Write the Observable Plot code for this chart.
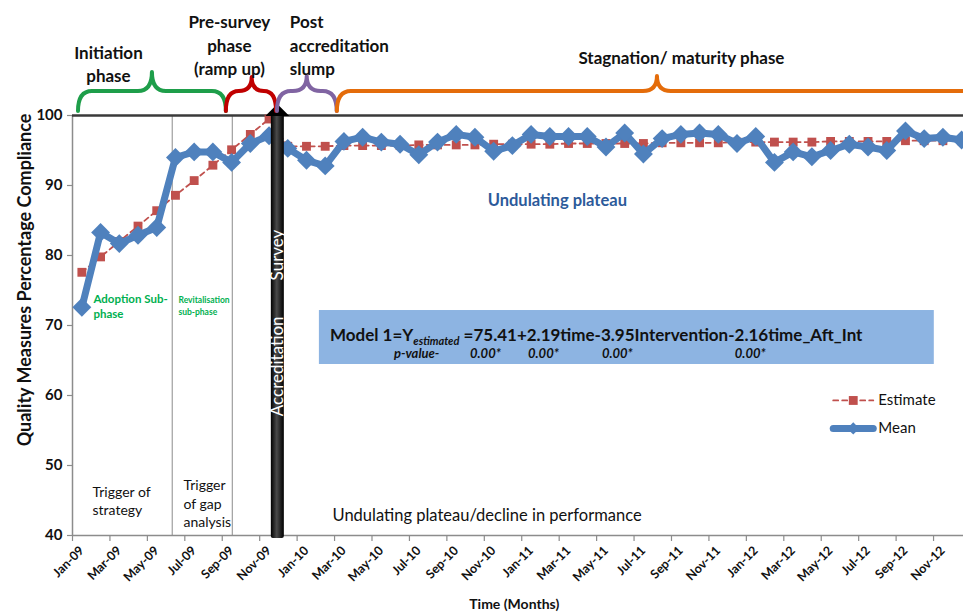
<!DOCTYPE html>
<html>
<head>
<meta charset="utf-8">
<script src="https://cdn.jsdelivr.net/npm/d3@7"></script>
<script src="https://cdn.jsdelivr.net/npm/@observablehq/plot@0.6"></script>
<style>
  html, body { margin: 0; padding: 0; background: #fff; overflow: hidden; }
  #chart svg { display: block; }
</style>
</head>
<body>
<div id="chart"></div>
<script>
// ---------------- data ----------------
const months = [
  "Jan-09","Feb-09","Mar-09","Apr-09","May-09","Jun-09","Jul-09","Aug-09","Sep-09","Oct-09","Nov-09","Dec-09",
  "Jan-10","Feb-10","Mar-10","Apr-10","May-10","Jun-10","Jul-10","Aug-10","Sep-10","Oct-10","Nov-10","Dec-10",
  "Jan-11","Feb-11","Mar-11","Apr-11","May-11","Jun-11","Jul-11","Aug-11","Sep-11","Oct-11","Nov-11","Dec-11",
  "Jan-12","Feb-12","Mar-12","Apr-12","May-12","Jun-12","Jul-12","Aug-12","Sep-12","Oct-12","Nov-12","Dec-12"
];
const meanValues = [
  72.6, 83.3, 81.7, 82.9, 84.0, 94.0, 94.8, 94.8, 93.3, 96.0, 97.1, 95.3,
  93.6, 92.8, 96.3, 96.9, 96.2, 95.9, 94.4, 96.2, 97.3, 96.9, 94.9, 95.7,
  97.3, 97.0, 97.0, 97.0, 95.5, 97.5, 94.5, 96.7, 97.3, 97.5, 97.3, 96.0,
  97.0, 93.3, 94.8, 94.1, 95.0, 95.9, 95.5, 95.0, 97.8, 96.7, 96.9, 96.5
];
const estimateValues = [
  77.6, 79.8, 82.0, 84.2, 86.4, 88.6, 90.7, 92.9, 95.1, 97.3, 99.5, 95.6,
  95.6, 95.6, 95.7, 95.7, 95.7, 95.7, 95.8, 95.8, 95.8, 95.8, 95.9, 95.9,
  95.9, 95.9, 96.0, 96.0, 96.0, 96.0, 96.0, 96.1, 96.1, 96.1, 96.1, 96.2,
  96.2, 96.2, 96.2, 96.2, 96.3, 96.3, 96.3, 96.3, 96.4, 96.4, 96.4, 96.4
];
const tickLabels = [
  "Jan-09","Mar-09","May-09","Jul-09","Sep-09","Nov-09",
  "Jan-10","Mar-10","May-10","Jul-10","Sep-10","Nov-10",
  "Jan-11","Mar-11","May-11","Jul-11","Sep-11","Nov-11",
  "Jan-12","Mar-12","May-12","Jul-12","Sep-12","Nov-12"
];
const yTicks = [40, 50, 60, 70, 80, 90, 100];
const seriesNames = ["Estimate", "Mean"];

// ---------------- derived tables ----------------
const data = months.map((m, i) => ({i, month: m, mean: meanValues[i], estimate: estimateValues[i]}));
const tickIdx = tickLabels.map(l => months.indexOf(l));
const tickBounds = tickIdx.map(i => i - 0.5);

// ---------------- annotation layout (month index / percent units) ----------------
const FONT = "Lato, 'Open Sans', sans-serif";
const surveyMonth = 10.47;
const dividers = [4.83, 8.04];
const braces = [
  {x1: -0.18, peak: 3.77, x2: 7.72, color: "#1E9E4A", top: 43},
  {x1: 7.72, peak: 9.1, x2: 10.4, color: "#C00000", top: 38},
  {x1: 10.45, peak: 12.04, x2: 13.64, color: "#8064A2", top: 39},
  {x1: 13.65, peak: 30.75, x2: 49, color: "#E46C0A", top: 39}
];

const blue = "#4F81BD", red = "#C0504D";

function customMark(draw) {
  return (index, scales, values, dims, context) => {
    const g = d3.create("svg:g").attr("text-anchor", "start");
    draw(g, scales, dims);
    return g.node();
  };
}

const chart = Plot.plot({
  width: 963,
  height: 612,
  marginLeft: 72,
  marginRight: 0,
  marginTop: 115,
  marginBottom: 77,
  style: {fontFamily: FONT, background: "#fff", overflow: "hidden"},
  x: {domain: [-0.5, 47.1], axis: null, label: null},
  y: {domain: [40, 100], axis: null, label: null},
  marks: [
    // dividers
    Plot.ruleX(dividers, {y1: 40, y2: 100, stroke: "#A6A6A6", strokeWidth: 1.3}),
    // axes lines
    Plot.ruleX([-0.5], {y1: 40, y2: 100, stroke: "#8C8C8C", strokeWidth: 1.5}),
    Plot.ruleY([40], {stroke: "#8C8C8C", strokeWidth: 1.5}),
    Plot.ruleY([100], {stroke: "#3A3A3A", strokeWidth: 2.5}),
    Plot.axisX({ticks: tickBounds, tickSize: 6, tickFormat: () => "", label: null, stroke: "#8C8C8C", strokeWidth: 1.2}),
    Plot.axisY({ticks: yTicks, tickSize: 5, tickFormat: () => "", label: null, stroke: "#8C8C8C", strokeWidth: 1.2}),
    Plot.text(yTicks, {x: -0.5, y: d => d, dx: -10, textAnchor: "end", fontWeight: "bold", fontSize: 15, fill: "#111"}),
    Plot.text(tickIdx, {x: d => d, y: 40, text: (d, k) => tickLabels[k], dx: 0, dy: 13, rotate: -45, textAnchor: "end",
      fontWeight: "bold", fontSize: 12.5, fill: "#111"}),
    // axis titles
    Plot.text(["Quality Measures Percentage Compliance"], {x: -0.5, y: 76.5, dx: -47, rotate: -90, textAnchor: "middle",
      fontWeight: "bold", fontSize: 18, fill: "#111"}),
    Plot.text(["Time (Months)"], {x: 23.1, y: 40, dy: 69, textAnchor: "middle", fontWeight: "bold", fontSize: 14, fill: "#111"}),

    // series
    Plot.line(data, {x: "i", y: "estimate", stroke: red, strokeWidth: 1.8, strokeDasharray: "5,4"}),
    Plot.dot(data, {x: "i", y: "estimate", symbol: "square", r: 5, fill: red}),
    Plot.line(data, {x: "i", y: "mean", stroke: blue, strokeWidth: 7, strokeLinejoin: "round"}),
    Plot.dot(data, {x: "i", y: "mean", symbol: "diamond2", r: 8.5, fill: blue}),

    // accreditation survey bar
    customMark((g, scales) => {
      const sx = scales.x(surveyMonth), top = scales.y(100), bot = scales.y(40);
      const grad = g.append("defs").append("linearGradient").attr("id", "barGrad")
        .attr("x1", 0).attr("x2", 1).attr("y1", 0).attr("y2", 0);
      grad.append("stop").attr("offset", 0).attr("stop-color", "#000");
      grad.append("stop").attr("offset", 0.45).attr("stop-color", "#4a4a4a");
      grad.append("stop").attr("offset", 1).attr("stop-color", "#000");
      g.append("rect").attr("x", sx - 6.5).attr("y", top - 1).attr("width", 13).attr("height", bot - top + 4)
        .attr("rx", 2).attr("fill", "url(#barGrad)");
      g.append("path").attr("d", `M${sx - 12},${top + 1}L${sx},${top - 11}L${sx + 12},${top + 1}Z`).attr("fill", "#000");
      g.append("text").attr("transform", `translate(${sx},${scales.y(80)}) rotate(-90)`)
        .attr("text-anchor", "middle").attr("dy", "0.36em").attr("fill", "#fff")
        .attr("font-size", 17).attr("font-family", FONT).text("Survey");
      g.append("text").attr("transform", `translate(${sx},${scales.y(64.1)}) rotate(-90)`)
        .attr("text-anchor", "middle").attr("dy", "0.36em").attr("fill", "#fff")
        .attr("font-size", 17).attr("font-family", FONT).text("Accreditation");
    }),

    // braces
    customMark((g, scales) => {
      const y0 = scales.y(100);
      for (const b of braces) {
        const yb = y0 - 4, ym = y0 - 24, yt = y0 - b.top;
        const X1 = scales.x(b.x1), XP = scales.x(b.peak), X2 = scales.x(b.x2);
        const r1 = Math.min(14, (XP - X1) / 2), r2 = Math.min(14, (X2 - XP) / 2);
        const d = `M${X1},${yb}Q${X1},${ym} ${X1 + r1},${ym}L${XP - r1},${ym}Q${XP},${ym} ${XP},${yt}` +
                  `Q${XP},${ym} ${XP + r2},${ym}L${X2 - r2},${ym}Q${X2},${ym} ${X2},${yb}`;
        g.append("path").attr("d", d).attr("fill", "none").attr("stroke", b.color)
          .attr("stroke-width", 4).attr("stroke-linecap", "round").attr("stroke-linejoin", "round");
      }
    }),

    // phase labels
    Plot.text(["Initiation\nphase"], {x: 1.42, y: 107.43, textAnchor: "middle", lineHeight: 1.35, fontWeight: "bold", fontSize: 17, fill: "#111"}),
    Plot.text(["Pre-survey\nphase\n(ramp up)"], {x: 7.88, y: 110.21, textAnchor: "middle", lineHeight: 1.38, fontWeight: "bold", fontSize: 17, fill: "#111"}),
    Plot.text(["Post\naccreditation\nslump"], {x: 11.11, y: 110.21, textAnchor: "start", lineHeight: 1.38, fontWeight: "bold", fontSize: 17, fill: "#111"}),
    Plot.text(["Stagnation/ maturity phase"], {x: 32.03, y: 108.1, textAnchor: "middle", fontWeight: "bold", fontSize: 17, fill: "#111"}),

    // in-plot notes
    Plot.text(["Undulating plateau"], {x: 25.4, y: 87.86, textAnchor: "middle", fontWeight: "bold", fontSize: 16.5, fill: "#2C5A9A"}),
    Plot.text(["Adoption Sub-\nphase"], {x: 0.62, y: 72.86, textAnchor: "start", lineHeight: 1.35, fontWeight: "bold", fontSize: 11.5, fill: "#00B050"}),
    Plot.text(["Revitalisation\nsub-phase"], {x: 5.16, y: 72.86, textAnchor: "start", lineHeight: 1.35, fontWeight: "bold", fontSize: 8.5, fill: "#00B050"}),
    Plot.text(["Trigger of\nstrategy"], {x: 0.57, y: 45.07, textAnchor: "start", lineHeight: 1.35, fontSize: 14, fill: "#111"}),
    Plot.text(["Trigger\nof gap\nanalysis"], {x: 5.43, y: 44.71, textAnchor: "start", lineHeight: 1.35, fontSize: 14, fill: "#111"}),
    Plot.text(["Undulating plateau/decline in performance"], {x: 13.39, y: 42.86, textAnchor: "start", fontSize: 16.5, fill: "#111"}),

    // model box
    Plot.rect([0], {x1: 12.69, x2: 45.54, y1: 64.43, y2: 72.14, fill: "#8DB4E2"}),
    customMark((g, scales) => {
      const X = scales.x(13.28), Y = scales.y(67.71);
      const t = g.append("text").attr("x", X).attr("y", Y).attr("font-family", FONT).attr("text-anchor", "start")
        .attr("font-weight", "bold").attr("font-size", 17).attr("fill", "#111");
      t.append("tspan").text("Model 1=Y");
      t.append("tspan").attr("font-size", 11).attr("font-style", "italic").attr("dy", 4).text("estimated");
      t.append("tspan").attr("dy", -4).text(" =75.41+2.19time-3.95Intervention-2.16time_Aft_Int");
      const Y2 = scales.y(65.29);
      const pv = [["p-value-", 16.7], ["0.00*", 20.76], ["0.00*", 23.86], ["0.00*", 27.81], ["0.00*", 34.91]];
      for (const [s, xv] of pv) {
        g.append("text").attr("x", scales.x(xv)).attr("y", Y2).attr("font-family", FONT).attr("text-anchor", "start")
          .attr("font-weight", "bold").attr("font-style", "italic").attr("font-size", 13).attr("fill", "#111").text(s);
      }
    }),

    // legend
    Plot.line([[40.14, 59.29], [42.28, 59.29]], {stroke: red, strokeWidth: 1.8, strokeDasharray: "5,4"}),
    Plot.dot([[41.21, 59.29]], {symbol: "square", r: 5, fill: red}),
    Plot.line([[40.14, 55.29], [42.28, 55.29]], {stroke: blue, strokeWidth: 7, strokeLinecap: "round"}),
    Plot.dot([[41.21, 55.29]], {symbol: "diamond2", r: 5.5, fill: blue}),
    Plot.text(seriesNames, {x: 42.55, y: (d, k) => k === 0 ? 59.29 : 55.29, textAnchor: "start", fontSize: 15, fill: "#111"})
  ]
});

document.getElementById("chart").appendChild(chart);
</script>
</body>
</html>
